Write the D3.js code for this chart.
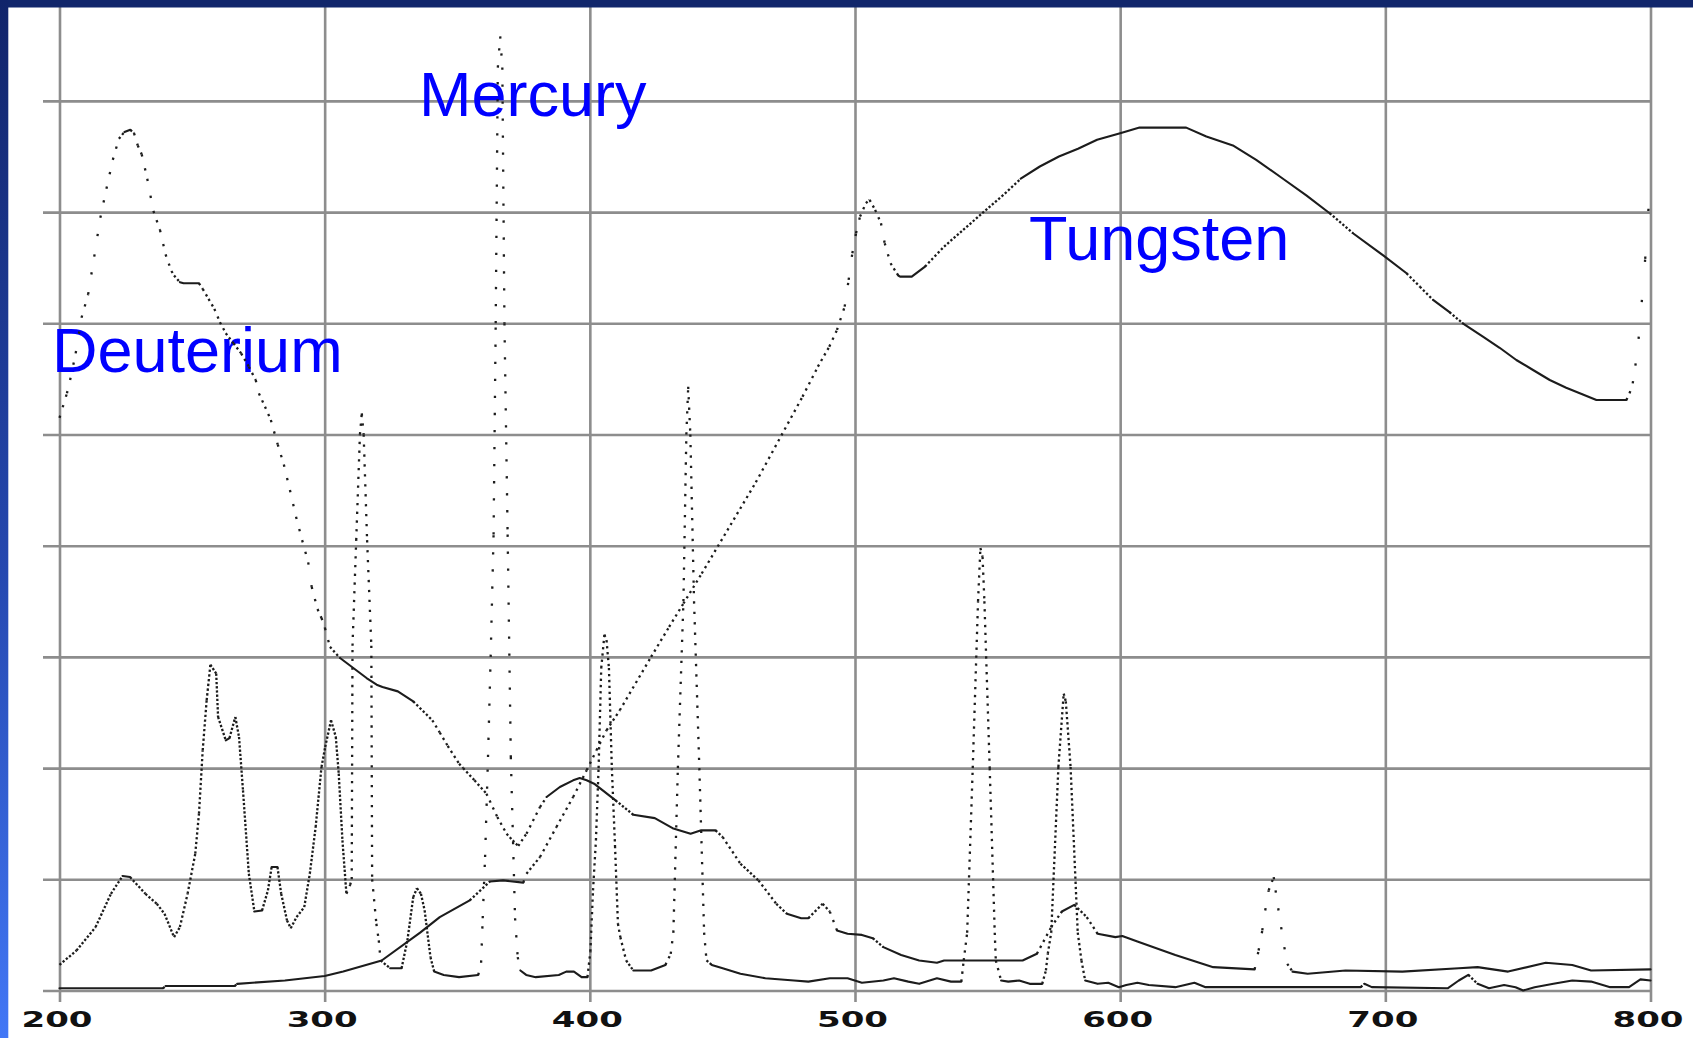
<!DOCTYPE html>
<html>
<head>
<meta charset="utf-8">
<script src="https://cdn.jsdelivr.net/npm/d3@7"></script>
<style>
  body { margin: 0; background: #fff; }
  svg { display: block; }
</style>
</head>
<body>
<div id="chart"></div>
<script>
// Lamp emission spectra: deuterium, mercury, tungsten

const xTicks = [200, 300, 400, 500, 600, 700, 800];
const yGrid = [0, 1, 2, 3, 4, 5, 6, 7, 8];

const deutNm = [200, 202.8, 204, 206.1, 208.3, 210.8, 213.1, 215.4, 217.7, 220.1, 222.4, 224.5, 226.7, 228.1, 229.5, 231, 233.1, 235.4, 237.9, 240, 242.2, 243.2, 245.4, 246.8, 252.6, 254, 256.2, 258.4, 260.5, 262.7, 265.6, 268.5, 271.4, 274, 275.2, 277.5, 279.7, 282.3, 284.6, 286.9, 289.2, 291.5, 293.8, 295.1, 297.3, 298.8, 300.1, 302, 305.8, 310.8, 315.8, 319.6, 321.8, 327.6, 333.4, 340.6, 343.4, 346.4, 350.7, 352.2, 356.5, 361, 365.1, 368.6, 370.9, 373, 376.1, 381.2, 383.7, 388.7, 393.7, 396.2, 398.8, 401.6, 409.7, 416.4, 424.5, 431.2, 438, 442, 447.4, 450.1, 456.8, 463.6, 470.3, 474.3, 479.7, 482.4, 487.8, 490.5, 493.2, 497.2, 502.6, 506.7, 510.7, 517.4, 524.2, 530.9, 533.6, 563.2, 568.6, 574, 578, 582.7, 587.4, 591.5, 598.2, 600.8, 606.5, 620.8, 635.1, 650.7, 652.2, 653.6, 654.7, 656, 657.9, 658.6, 659.6, 660.7, 661.9, 663, 665, 670.7, 685, 706.4, 727.7, 734.8, 746.3, 760.5, 770.5, 777.6, 800];
const deutVal = [5.15, 5.37, 5.49, 5.73, 6.05, 6.26, 6.6, 6.95, 7.21, 7.47, 7.66, 7.72, 7.74, 7.71, 7.6, 7.52, 7.3, 7.01, 6.84, 6.62, 6.47, 6.43, 6.37, 6.36, 6.36, 6.31, 6.22, 6.13, 6.01, 5.91, 5.82, 5.73, 5.61, 5.49, 5.37, 5.25, 5.13, 4.91, 4.73, 4.5, 4.26, 4.05, 3.85, 3.63, 3.43, 3.35, 3.26, 3.09, 2.99, 2.9, 2.81, 2.75, 2.73, 2.69, 2.6, 2.43, 2.32, 2.2, 2.04, 2.0, 1.89, 1.77, 1.56, 1.41, 1.35, 1.3, 1.41, 1.65, 1.74, 1.83, 1.89, 1.91, 1.89, 1.86, 1.71, 1.58, 1.55, 1.46, 1.41, 1.44, 1.44, 1.38, 1.14, 0.99, 0.78, 0.69, 0.65, 0.65, 0.78, 0.71, 0.54, 0.51, 0.5, 0.47, 0.39, 0.32, 0.27, 0.25, 0.27, 0.27, 0.33, 0.57, 0.71, 0.77, 0.66, 0.51, 0.48, 0.49, 0.44, 0.32, 0.21, 0.19, 0.36, 0.54, 0.72, 0.9, 1.02, 0.9, 0.74, 0.57, 0.39, 0.24, 0.17, 0.15, 0.18, 0.17, 0.2, 0.21, 0.17, 0.25, 0.23, 0.18, 0.19];

const mercNm = [200, 206.4, 213.6, 219.4, 223.8, 226.6, 232.4, 236.7, 239.6, 243.2, 245.4, 248.3, 251.2, 252.6, 254, 255.5, 256.9, 259.1, 259.8, 262.7, 264.1, 266.3, 267.7, 269.2, 271.4, 273.5, 276.4, 278.6, 280, 282.2, 283.6, 285.8, 287.2, 289.4, 292.3, 294.4, 296.6, 298.8, 300.2, 302.4, 304.2, 305.3, 306.7, 308.2, 309.6, 310.2, 310.5, 311.9, 313.3, 314, 314.7, 316, 317.6, 317.9, 319.5, 320.4, 321.1, 324.7, 329, 331.2, 333.4, 334.8, 336.3, 337.7, 339.9, 341.3, 344.9, 350.7, 357.9, 359, 359.6, 360.5, 361.6, 362.6, 363.7, 364.5, 365.3, 366.2, 367, 367.8, 369, 370.2, 371.2, 371.8, 372.8, 373.8, 376, 379.6, 388.3, 391.1, 394, 396.9, 399.1, 400.2, 401.2, 402.3, 403.3, 404.3, 405.5, 406.3, 407.2, 408.3, 409.5, 410.6, 411.5, 413.7, 416.4, 423.1, 428.5, 430.5, 431.5, 433.2, 435.3, 436.4, 437.1, 437.9, 439.3, 441.3, 443.1, 444, 446, 450.1, 456.8, 466.2, 477, 482.4, 490.5, 497.2, 502.6, 510.7, 514.7, 520.1, 524.2, 530.9, 536.2, 540.1, 541, 542.3, 544.4, 546.4, 547.3, 548.1, 548.8, 550.8, 552.7, 553.1, 555.1, 557.8, 561.9, 565.9, 570.6, 572, 572.7, 574, 576.7, 578.7, 579.5, 581.3, 584, 585.4, 586.8, 591.5, 595.5, 599.5, 602.3, 606.5, 610.8, 620.8, 628, 632.2, 663.6, 690.7, 692.1, 694.9, 723.5, 727.7, 731.3, 734.8, 739.1, 744.8, 749.1, 752, 756.3, 763.4, 770.5, 777.6, 784.8, 791.9, 796.2, 800];
const mercVal = [0.23, 0.36, 0.57, 0.87, 1.03, 1.02, 0.87, 0.78, 0.69, 0.48, 0.57, 0.87, 1.23, 1.59, 2.16, 2.61, 2.93, 2.85, 2.46, 2.25, 2.27, 2.46, 2.28, 1.8, 1.05, 0.71, 0.72, 0.9, 1.11, 1.11, 0.87, 0.63, 0.56, 0.66, 0.75, 1.05, 1.47, 2.01, 2.19, 2.43, 2.28, 1.95, 1.35, 0.87, 0.95, 1.0, 3.1, 4.05, 5.0, 5.19, 5.0, 4.05, 3.1, 1.0, 0.6, 0.45, 0.27, 0.2, 0.2, 0.45, 0.84, 0.92, 0.87, 0.72, 0.3, 0.17, 0.14, 0.12, 0.14, 0.25, 0.65, 1.2, 2.1, 3.0, 4.1, 6.0, 8.3, 8.58, 8.3, 6.0, 4.1, 2.1, 1.2, 0.65, 0.3, 0.18, 0.14, 0.12, 0.14, 0.17, 0.17, 0.12, 0.12, 0.35, 0.9, 1.35, 2.0, 2.9, 3.2, 3.15, 2.9, 2.0, 1.3, 0.6, 0.48, 0.27, 0.18, 0.18, 0.23, 0.33, 0.52, 2.0, 3.5, 5.0, 5.43, 5.0, 3.5, 2.0, 0.52, 0.27, 0.23, 0.2, 0.15, 0.11, 0.09, 0.08, 0.11, 0.11, 0.07, 0.09, 0.11, 0.08, 0.06, 0.11, 0.08, 0.08, 0.27, 0.52, 2.0, 3.5, 3.98, 3.9, 3.5, 2.0, 0.52, 0.27, 0.09, 0.08, 0.09, 0.06, 0.06, 0.18, 0.33, 0.52, 2.01, 2.67, 2.6, 2.01, 0.52, 0.27, 0.09, 0.06, 0.07, 0.03, 0.05, 0.07, 0.05, 0.03, 0.07, 0.03, 0.03, 0.03, 0.06, 0.03, 0.02, 0.09, 0.14, 0.06, 0.02, 0.05, 0.03, 0.0, 0.03, 0.06, 0.09, 0.08, 0.03, 0.03, 0.1, 0.09];

const tungNm = [200, 239, 240, 266, 267, 285, 300, 307, 321.5, 336, 343.4, 354.7, 362.3, 367.3, 374.9, 376.1, 381.2, 387.4, 393.7, 398.8, 402.5, 406.3, 411.3, 423.1, 429.9, 435.3, 442.2, 462.6, 480.2, 486, 490.3, 493.2, 496.1, 497.6, 499, 500.4, 501.9, 504.1, 505.5, 507.6, 509.8, 511.2, 513.4, 516.3, 517, 521.4, 526.4, 533.6, 540.8, 548, 555.3, 562.5, 569.7, 576.9, 584.1, 591.3, 600, 607.3, 624.9, 632.5, 642.5, 651.3, 661.4, 670.2, 679, 687.8, 699.2, 708, 713, 718, 724.2, 729.2, 736.8, 743.1, 749.4, 755.7, 762, 768.2, 774.5, 779.6, 790.9, 792.1, 793.3, 794.3, 795.5, 796.7, 798, 799.2, 800];
const tungVal = [0.02, 0.02, 0.04, 0.04, 0.06, 0.09, 0.13, 0.17, 0.27, 0.52, 0.66, 0.81, 0.98, 0.99, 0.97, 1.05, 1.2, 1.47, 1.74, 1.98, 2.16, 2.34, 2.52, 3.0, 3.27, 3.48, 3.75, 4.57, 5.34, 5.61, 5.79, 5.94, 6.15, 6.39, 6.63, 6.81, 6.96, 7.08, 7.11, 7.02, 6.9, 6.72, 6.54, 6.43, 6.42, 6.42, 6.51, 6.69, 6.84, 6.99, 7.14, 7.3, 7.41, 7.5, 7.57, 7.65, 7.71, 7.76, 7.76, 7.68, 7.6, 7.47, 7.3, 7.15, 6.99, 6.81, 6.61, 6.45, 6.33, 6.21, 6.1, 6.0, 5.88, 5.78, 5.67, 5.58, 5.49, 5.42, 5.36, 5.31, 5.31, 5.37, 5.46, 5.62, 5.86, 6.19, 6.58, 7.01, 7.47];

const labels = [
  { text: "Deuterium", x: 52, y: 371.5 },
  { text: "Mercury", x: 419, y: 116 },
  { text: "Tungsten", x: 1029, y: 260 }
];

const width = 1693,
  height = 1038;

const svg = d3.select("#chart").append("svg")
  .attr("width", width)
  .attr("height", height);

// slide-style frame: dark bar on top, blue gradient strip on the left
const defs = svg.append("defs");
const grad = defs.append("linearGradient")
  .attr("id", "sideGrad")
  .attr("x1", 0).attr("y1", 0).attr("x2", 0).attr("y2", 1);
grad.append("stop").attr("offset", "0%").attr("stop-color", "#11246a");
grad.append("stop").attr("offset", "55%").attr("stop-color", "#2548b0");
grad.append("stop").attr("offset", "100%").attr("stop-color", "#4277f6");

svg.append("rect").attr("width", width).attr("height", height).attr("fill", "#fff");

const x = d3.scaleLinear().domain([200, 800]).range([59.5, 1650.5]);
const y = d3.scaleLinear().domain([0, 8]).range([990.5, 100.9]);

// grid (gridlines run past the plot edge as ticks)
const gridColor = "#8d8d8d";
const gx = svg.append("g")
  .attr("transform", "translate(0,1002)")
  .call(d3.axisBottom(x).tickValues(xTicks).tickSize(-1002).tickFormat(""));
const gy = svg.append("g")
  .attr("transform", `translate(${x(800)},0)`)
  .call(d3.axisLeft(y).tickValues(yGrid).tickSize(x(800) - 43).tickFormat(""));
[gx, gy].forEach(g => {
  g.select(".domain").remove();
  g.selectAll("line").attr("stroke", gridColor).attr("stroke-width", 2.6);
});

// tick labels
const gLab = svg.append("g")
  .attr("transform", "translate(0,1026.7)")
  .call(d3.axisBottom(x).tickValues(xTicks).tickSize(0).tickFormat(d3.format("d")));
gLab.select(".domain").remove();
gLab.selectAll("text")
  .attr("y", 0)
  .attr("dy", null)
  .attr("dx", -3)
  .attr("fill", "#111")
  .attr("font-family", "'DejaVu Sans', sans-serif")
  .attr("font-weight", "bold")
  .attr("font-size", 21)
  .attr("textLength", 71)
  .attr("lengthAdjust", "spacingAndGlyphs");

// series names
svg.append("g").selectAll("text")
  .data(labels)
  .enter()
  .append("text")
  .attr("x", d => d.x)
  .attr("y", d => d.y)
  .attr("fill", "#0000ff")
  .attr("font-family", "'Liberation Sans', Arial, sans-serif")
  .attr("font-size", 63)
  .text(d => d.text);

// curves: flat stretches solid, steep stretches dotted like the old plotter output
const gLines = svg.append("g")
  .attr("fill", "none")
  .attr("stroke", "#1c1c1c");

const DOT = 2.3;
const seg = d3.line().x(d => x(d[0])).y(d => y(d[1]));

// dotsPerEdge: mercury edges keep ~55 dots whatever their height
function drawSeries(nm, val, dotsPerEdge) {
  const pts = nm.map((n, i) => [n, val[i]]);
  const segs = [];
  for (let i = 0; i < pts.length - 1; i++) {
    const a = pts[i], b = pts[i + 1];
    const dx = Math.abs(x(b[0]) - x(a[0]));
    const dyS = y(b[1]) - y(a[1]);
    segs.push({ a, b, dy: Math.abs(dyS), dir: Math.sign(dyS), s: Math.abs(dyS) / Math.max(dx, 0.01) });
  }
  // total height of each steep monotonic edge
  let i = 0;
  while (i < segs.length) {
    let j = i, tot = 0;
    if (segs[i].s > 2) {
      while (j < segs.length && segs[j].s > 2 && segs[j].dir === segs[i].dir) { tot += segs[j].dy; j++; }
      for (let k = i; k < j; k++) segs[k].edge = tot;
      i = j;
    } else {
      segs[i].edge = segs[i].dy;
      i++;
    }
  }

  let run = [pts[0]];
  segs.forEach(sg => {
    let step = 3.2 * Math.sqrt(1 + sg.s * sg.s);
    if (dotsPerEdge) step = Math.min(step, Math.max(4.2, sg.edge / dotsPerEdge));
    if (sg.s < 0.8 || step - DOT < 1.3) {
      run.push(sg.b);
      return;
    }
    if (run.length > 1) flushRun(run);
    gLines.append("path")
      .attr("d", seg([sg.a, sg.b]))
      .attr("stroke-width", DOT)
      .attr("stroke-linecap", "butt")
      .attr("stroke-dasharray", `${DOT} ${step - DOT}`);
    run = [sg.b];
  });
  if (run.length > 1) flushRun(run);
}

function flushRun(run) {
  gLines.append("path")
    .attr("d", seg(run))
    .attr("stroke-width", 2.1)
    .attr("stroke-linejoin", "round")
    .attr("stroke-linecap", "round");
}

drawSeries(deutNm, deutVal, 0);
drawSeries(mercNm, mercVal, 55);
drawSeries(tungNm, tungVal, 0);

// frame on top
svg.append("rect").attr("x", 0).attr("y", 0).attr("width", width).attr("height", 7.5).attr("fill", "#11266b");
svg.append("rect").attr("x", 0).attr("y", 0).attr("width", 8.3).attr("height", height).attr("fill", "url(#sideGrad)");
</script>
</body>
</html>
